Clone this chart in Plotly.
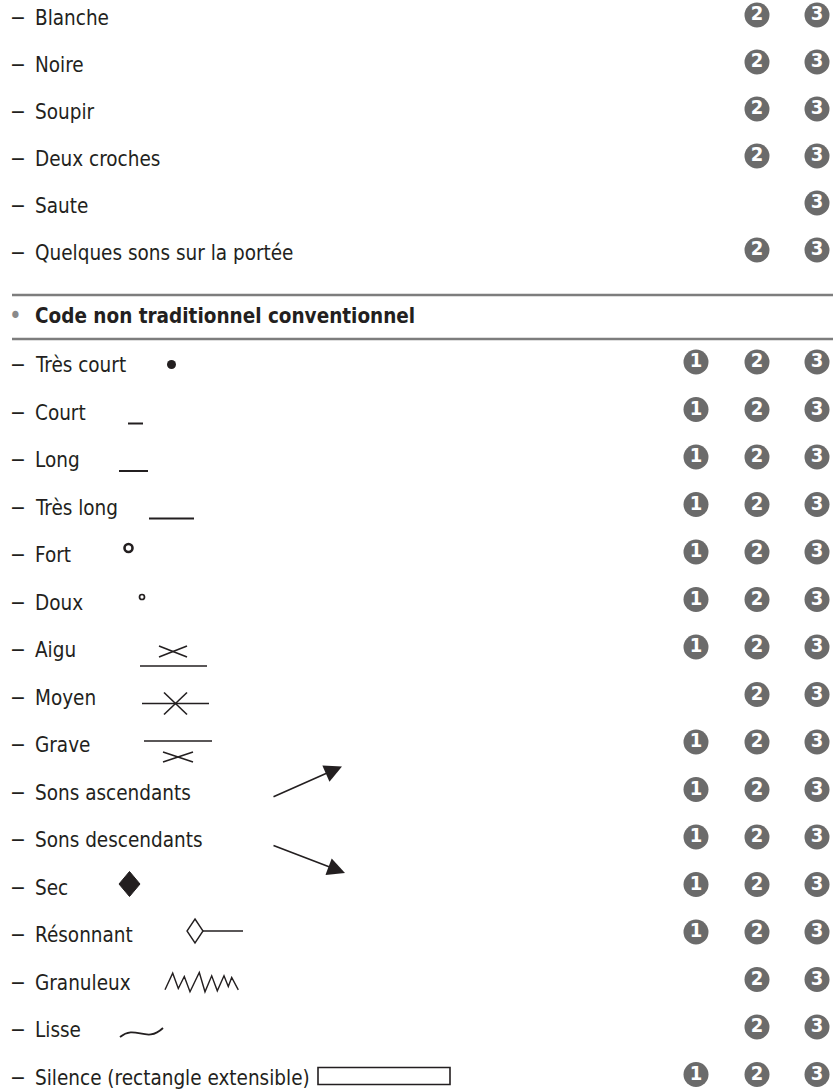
"""Table of music notation codes with level badges, drawn with Plotly."""
import plotly.graph_objects as go

W, H = 833, 1092
FONT = "DejaVu Sans Condensed, Liberation Sans Narrow, sans-serif"
INK = "#231f20"
BADGE = "#6b6b6b"
RULE = "#7d7d7d"
TEXT_SIZE = 20.5

# --- data -------------------------------------------------------------------
SECTION1_LABELS = [
    "Blanche",
    "Noire",
    "Soupir",
    "Deux croches",
    "Saute",
    "Quelques sons sur la portée",
]
SECTION1_LEVELS = [[2, 3], [2, 3], [2, 3], [2, 3], [3], [2, 3]]

HEADER = "Code non traditionnel conventionnel"

SECTION2_LABELS = [
    "Très court",
    "Court",
    "Long",
    "Très long",
    "Fort",
    "Doux",
    "Aigu",
    "Moyen",
    "Grave",
    "Sons ascendants",
    "Sons descendants",
    "Sec",
    "Résonnant",
    "Granuleux",
    "Lisse",
    "Silence (rectangle extensible)",
]
SECTION2_LEVELS = [
    [1, 2, 3], [1, 2, 3], [1, 2, 3], [1, 2, 3], [1, 2, 3], [1, 2, 3],
    [1, 2, 3], [2, 3], [1, 2, 3], [1, 2, 3], [1, 2, 3], [1, 2, 3],
    [1, 2, 3], [2, 3], [2, 3], [1, 2, 3],
]
SECTION2_SYMBOLS = [
    "dot", "court", "long", "tres_long", "fort", "doux", "aigu", "moyen",
    "grave", "asc", "desc", "sec", "resonnant", "granuleux", "lisse", "silence",
]
LEVEL_NAMES = ["1", "2", "3"]

# --- layout constants -------------------------------------------------------
ROW1_Y0, ROW1_STEP = 18, 47
ROW2_Y0, ROW2_STEP = 365, 47.5
LEVEL_X = {1: 696, 2: 757, 3: 817}
RULE_Y = [295, 339]
HEADER_Y = 316

rows1 = [ROW1_Y0 + ROW1_STEP * i for i in range(len(SECTION1_LABELS))]
rows2 = [ROW2_Y0 + ROW2_STEP * i for i in range(len(SECTION2_LABELS))]

fig = go.Figure()
annotations = []
shapes = []


def label(text, y, bold=False):
    annotations.append(dict(x=8, y=y, text="−", showarrow=False, xanchor="left",
                            yanchor="middle", font=dict(family=FONT, size=21, color=INK)))
    annotations.append(dict(x=33, y=y, text=f"<b>{text}</b>" if bold else text,
                            showarrow=False, xanchor="left", yanchor="middle",
                            font=dict(family=FONT, size=TEXT_SIZE, color=INK)))


for name, y in zip(SECTION1_LABELS, rows1):
    label(name, y)
for name, y in zip(SECTION2_LABELS, rows2):
    label(name, y)

# section header with rules
for ry in RULE_Y:
    shapes.append(dict(type="line", x0=12, x1=W, y0=ry, y1=ry,
                       line=dict(color=RULE, width=2.5)))
annotations.append(dict(x=7, y=HEADER_Y, text="•", showarrow=False, xanchor="left",
                        yanchor="middle", font=dict(family=FONT, size=24, color="#8a8a8a")))
annotations.append(dict(x=33, y=HEADER_Y, text=f"<b>{HEADER}</b>", showarrow=False,
                        xanchor="left", yanchor="middle",
                        font=dict(family=FONT, size=TEXT_SIZE, color=INK)))

# level badges
bx, by, bt = [], [], []
for rows, levels in ((rows1, SECTION1_LEVELS), (rows2, SECTION2_LEVELS)):
    for y, lv in zip(rows, levels):
        for k in lv:
            bx.append(LEVEL_X[k])
            by.append(y - 3)
            bt.append(LEVEL_NAMES[k - 1])
fig.add_trace(go.Scatter(
    x=bx, y=by, text=bt, mode="markers+text", textposition="middle center",
    marker=dict(size=25, color=BADGE, line=dict(width=0)),
    textfont=dict(family=FONT, size=20, color="white", weight="bold"),
    hoverinfo="skip",
))


def line(x0, y0, x1, y1, w=1.6):
    shapes.append(dict(type="line", x0=x0, y0=y0, x1=x1, y1=y1,
                       line=dict(color=INK, width=w)))


def symbol(kind, yc):
    if kind == "dot":
        shapes.append(dict(type="circle", x0=167, x1=176, y0=yc - 5, y1=yc + 4,
                           fillcolor=INK, line=dict(color=INK, width=0)))
    elif kind == "court":
        line(128, yc + 11, 143, yc + 11, 2)
    elif kind == "long":
        line(119, yc + 11, 148, yc + 11, 2)
    elif kind == "tres_long":
        line(149, yc + 11, 194, yc + 11, 2)
    elif kind == "fort":
        shapes.append(dict(type="circle", x0=124.5, x1=132.5, y0=yc - 11, y1=yc - 3,
                           line=dict(color=INK, width=2.6)))
    elif kind == "doux":
        shapes.append(dict(type="circle", x0=139.5, x1=144.5, y0=yc - 8, y1=yc - 3,
                           line=dict(color=INK, width=1.7)))
    elif kind == "aigu":
        line(140, yc + 16, 207, yc + 16)
        line(159, yc - 4, 187, yc + 7)
        line(159, yc + 7, 187, yc - 4)
    elif kind == "moyen":
        line(142, yc + 6, 209, yc + 6)
        line(164, yc - 5, 187, yc + 17)
        line(164, yc + 17, 187, yc - 5)
    elif kind == "grave":
        line(144, yc - 4, 212, yc - 4)
        line(163, yc + 7, 193, yc + 17)
        line(163, yc + 17, 193, yc + 7)
    elif kind in ("asc", "desc"):
        tip = (342, yc - 26) if kind == "asc" else (345, yc + 33)
        annotations.append(dict(x=tip[0], y=tip[1], ax=272, ay=yc + 5, axref="x",
                                ayref="y", text="", showarrow=True, arrowhead=2,
                                arrowsize=2.2, arrowwidth=1.6, arrowcolor=INK))
    elif kind == "sec":
        cx, cy = 129.5, yc - 3.5
        shapes.append(dict(type="path",
                           path=f"M {cx} {cy - 12.5} L {cx + 10.5} {cy} L {cx} {cy + 12.5} L {cx - 10.5} {cy} Z",
                           fillcolor=INK, line=dict(color=INK, width=1)))
    elif kind == "resonnant":
        cx, cy = 195, yc - 4
        shapes.append(dict(type="path",
                           path=f"M {cx} {cy - 12} L {cx + 8} {cy} L {cx} {cy + 12} L {cx - 8} {cy} Z",
                           fillcolor="white", line=dict(color=INK, width=1.4)))
        line(cx + 8, cy, 243, cy)
    elif kind == "granuleux":
        pts = [(45, 82), (68, 32), (85, 78), (103, 42), (120, 88), (148, 30),
               (165, 88), (185, 40), (202, 85), (222, 40), (235, 72), (245, 45),
               (265, 82)]
        path = " ".join(
            f"{'M' if i == 0 else 'L'} {150 + px / 3:.1f} {yc - 20 + py / 3:.1f}"
            for i, (px, py) in enumerate(pts))
        shapes.append(dict(type="path", path=path, line=dict(color=INK, width=1.4)))
    elif kind == "lisse":
        shapes.append(dict(type="path",
                           path=f"M 120 {yc + 7} C 136 {yc - 6}, 146 {yc + 14}, 163 {yc - 2}",
                           line=dict(color=INK, width=1.8)))
    elif kind == "silence":
        shapes.append(dict(type="rect", x0=318, x1=450, y0=yc - 10, y1=yc + 7,
                           line=dict(color=INK, width=1.6)))


for kind, y in zip(SECTION2_SYMBOLS, rows2):
    symbol(kind, y)

fig.update_layout(
    width=W,
    height=H,
    margin=dict(l=0, r=0, t=0, b=0),
    paper_bgcolor="white",
    plot_bgcolor="white",
    showlegend=False,
    xaxis=dict(range=[0, W], visible=False, fixedrange=True),
    yaxis=dict(range=[H, 0], visible=False, fixedrange=True),
    annotations=annotations,
    shapes=shapes,
)

# drop the default page margin so the figure fills the window exactly
fig.write_html(
    "out.html",
    config={"displayModeBar": False},
    post_script="document.body.style.margin='0';document.body.style.overflow='hidden';",
)
